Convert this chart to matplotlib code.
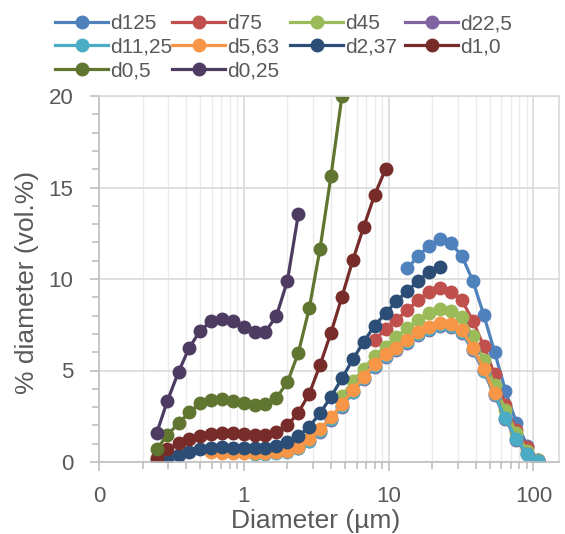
import numpy as np
import matplotlib.pyplot as plt
from matplotlib.ticker import FixedLocator, FixedFormatter, MultipleLocator

# size bins (um), quarter-octave steps
bins = [0.25, 0.297, 0.354, 0.42, 0.5, 0.595, 0.707, 0.841, 1.0, 1.19, 1.41, 1.68,
        2.0, 2.38, 2.83, 3.36, 4.0, 4.76, 5.66, 6.73, 8.0, 9.51, 11.3, 13.45,
        16.0, 19.0, 22.6, 26.9, 32.0, 38.1, 45.3, 53.8, 64.0, 76.1, 90.5, 107.6]

names = ["d125", "d75", "d45", "d22,5", "d11,25", "d5,63", "d2,37", "d1,0", "d0,5", "d0,25"]
colors = ["#4F81BD", "#C0504D", "#9BBB59", "#8064A2", "#4BACC6",
          "#F79646", "#2C4D75", "#772C2A", "#5F7530", "#4D3B62"]

# first bin index of each series
start = [23, 20, 17, 13, 9, 5, 0, 0, 0, 0]

d125 = [10.58, 11.26, 11.8, 12.17, 11.95, 11.26, 9.91, 8.05, 6.03, 3.9, 2.15, 0.9, 0.11]
d75 = [6.67, 7.25, 7.76, 8.3, 8.85, 9.31, 9.49, 9.31, 8.85, 7.72, 6.35, 4.8, 3.11,
       1.75, 0.84, 0.1]
d45 = [3.6, 4.4, 5.1, 5.8, 6.3, 6.85, 7.3, 7.76, 8.12, 8.34, 8.27, 7.91, 6.89, 5.57,
       4.2, 2.84, 1.57, 0.62, 0.1]
d22_5 = [0.75, 1.13, 1.66, 2.3, 3.03, 3.8, 4.52, 5.2, 5.72, 6.1, 6.5, 6.93, 7.23, 7.42,
         7.37, 7.05, 6.1, 4.95, 3.65, 2.35, 1.2, 0.42, 0.05]
d11_25 = [0.45, 0.45, 0.5, 0.57, 0.78, 1.17, 1.7, 2.35, 3.08, 3.84, 4.57, 5.26, 5.78,
          6.15, 6.56, 6.98, 7.28, 7.47, 7.42, 7.1, 6.15, 5.0, 3.7, 2.39, 1.25, 0.46, 0.05]
d5_63 = [0.55, 0.5, 0.5, 0.5, 0.5, 0.5, 0.55, 0.62, 0.84, 1.24, 1.79, 2.44, 3.17, 3.93,
         4.66, 5.36, 5.88, 6.25, 6.66, 7.09, 7.39, 7.58, 7.52, 7.21, 6.25, 5.1, 3.78]
d2_37 = [0.1, 0.2, 0.38, 0.56, 0.69, 0.75, 0.8, 0.78, 0.75, 0.75, 0.78, 0.87, 1.1, 1.4,
         1.93, 2.66, 3.57, 4.57, 5.61, 6.57, 7.45, 8.12, 8.78, 9.35, 9.89, 10.4, 10.67]
d1_0 = [0.2, 0.7, 1.02, 1.25, 1.43, 1.55, 1.6, 1.57, 1.53, 1.48, 1.49, 1.66, 2.0, 2.7,
        3.73, 5.3, 7.07, 9.03, 11.04, 12.86, 14.59, 16.0]
d0_5 = [0.69, 1.48, 2.11, 2.71, 3.2, 3.39, 3.44, 3.35, 3.24, 3.11, 3.17, 3.51, 4.36,
        5.97, 8.4, 11.66, 15.65, 20.0]
d0_25 = [1.57, 3.35, 4.92, 6.25, 7.17, 7.69, 7.83, 7.72, 7.39, 7.09, 7.12, 7.98, 9.91,
         13.55]

series = [d125, d75, d45, d22_5, d11_25, d5_63, d2_37, d1_0, d0_5, d0_25]

grey = "#595959"
plt.rcParams['font.family'] = ['Liberation Sans', 'DejaVu Sans']

fig = plt.figure(figsize=(5.65, 5.34), dpi=100)
ax = fig.add_axes([99 / 565, 1 - 462 / 534, 460 / 565, 366 / 534])

handles = []
for name, col, s0, vals in zip(names, colors, start, series):
    x = bins[s0:s0 + len(vals)]
    h, = ax.plot(x, vals, color=col, lw=2.3, marker='o', markersize=9,
                 markeredgecolor=col, label=name)
    handles.append(h)

ax.set_xscale('log')
ax.set_xlim(0.1, 150)
ax.set_ylim(0, 20)

ax.xaxis.set_major_locator(FixedLocator([0.1, 1, 10, 100]))
ax.xaxis.set_major_formatter(FixedFormatter(["0", "1", "10", "100"]))
minors = [m * d for d in [0.1, 1, 10] for m in range(2, 10)]
ax.xaxis.set_minor_locator(FixedLocator(minors))
ax.xaxis.set_minor_formatter(FixedFormatter([""] * len(minors)))
ax.yaxis.set_major_locator(MultipleLocator(5))
ax.yaxis.set_minor_locator(MultipleLocator(1))

ax.grid(True, which='major', color='#D9D9D9', lw=1.2)
ax.grid(True, which='minor', axis='x', color='#EBEBEB', lw=1.0)
ax.set_axisbelow(True)

for sp in ax.spines.values():
    sp.set_color('#D9D9D9')
    sp.set_linewidth(1.2)
ax.spines['left'].set_color('#BFBFBF')
ax.spines['bottom'].set_color('#BFBFBF')

ax.tick_params(axis='both', which='both', color='#BFBFBF', width=1.2, labelcolor=grey,
               labelsize=16)
ax.tick_params(axis='both', which='major', length=6.5)
ax.tick_params(axis='both', which='minor', length=5)
ax.tick_params(axis='y', which='major', pad=12)
ax.tick_params(axis='x', which='major', pad=11)

fig.text(316 / 565, 1 - 521 / 534, "Diameter (\u00b5m)", fontsize=19, color=grey,
         ha='center', va='center')
fig.text(27 / 565, 1 - 282 / 534, "% diameter (vol.%)", fontsize=19, color=grey,
         ha='center', va='center', rotation=90)

# legend laid out row by row, one legend per column
cols = [[0, 4, 8], [1, 5, 9], [2, 6], [3, 7]]
xs = [55, 172, 290, 405]
for idx, x0 in zip(cols, xs):
    leg = fig.legend([handles[i] for i in idx], [names[i] for i in idx],
                     loc='upper left', bbox_to_anchor=(x0 / 565, 1 - 14 / 534),
                     frameon=False, fontsize=15, handlelength=2.55, handletextpad=0.1,
                     labelspacing=0.22, borderpad=0, borderaxespad=0, labelcolor=grey)

fig.savefig("out.png", dpi=100)
